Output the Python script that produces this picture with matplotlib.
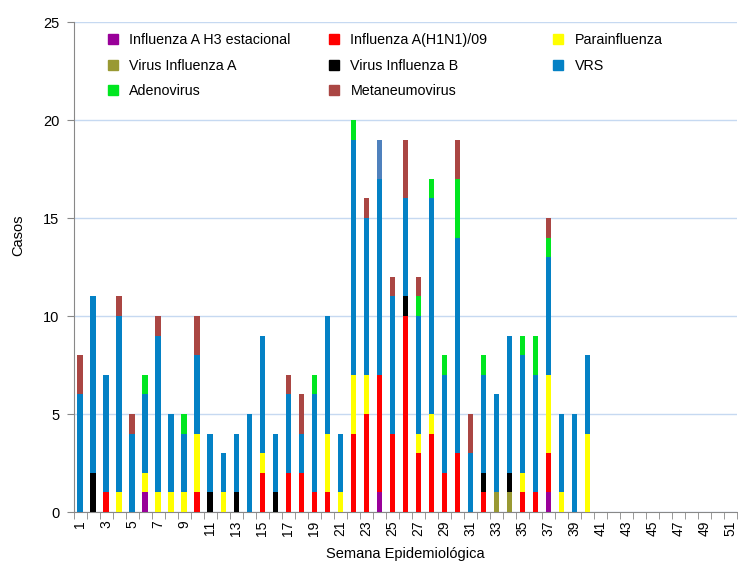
import numpy as np
import matplotlib.pyplot as plt
from matplotlib.patches import Patch

plt.rcParams['font.family'] = ['Liberation Sans', 'DejaVu Sans']

semanas = np.arange(1, 52)

# casos por semana epidemiologica (semanas 1-40, el resto sin casos)
h3_estacional = [0,0,0,0,0,1,0,0,0,0, 0,0,0,0,0,0,0,0,0,0, 0,0,0,1,0,0,0,0,0,0, 0,0,0,0,0,0,1,0,0,0]
h1n1 = [0,0,1,0,0,0,0,0,0,1, 0,0,0,0,2,0,2,2,1,1, 0,4,5,6,4,10,3,4,2,3, 0,1,0,0,1,1,2,0,0,0]
parainfluenza = [0,0,0,1,0,1,1,1,1,3, 0,1,0,0,1,0,0,0,0,3, 1,3,2,0,0,0,1,1,0,0, 0,0,0,0,1,0,4,1,0,4]
virus_a = [0,0,0,0,0,0,0,0,0,0, 0,0,0,0,0,0,0,0,0,0, 0,0,0,0,0,0,0,0,0,0, 0,0,1,1,0,0,0,0,0,0]
virus_b = [0,2,0,0,0,0,0,0,0,0, 1,0,1,0,0,1,0,0,0,0, 0,0,0,0,0,1,0,0,0,0, 0,1,0,1,0,0,0,0,0,0]
vrs = [6,9,6,9,4,4,8,4,3,4, 3,2,3,5,6,3,4,2,5,6, 3,12,8,10,7,5,6,11,5,11, 3,5,5,7,6,6,6,4,5,4]
adenovirus = [0,0,0,0,0,1,0,0,1,0, 0,0,0,0,0,0,0,0,1,0, 0,1,0,0,0,0,1,1,1,3, 0,1,0,0,1,2,1,0,0,0]
metaneumovirus = [2,0,0,1,1,0,1,0,0,2, 0,0,0,0,0,0,1,2,0,0, 0,0,1,0,1,3,1,0,0,2, 2,0,0,0,0,0,1,0,0,0]
otros = [0,0,0,0,0,0,0,0,0,0, 0,0,0,0,0,0,0,0,0,0, 0,0,0,2,0,0,0,0,0,0, 0,0,0,0,0,0,0,0,0,0]

series = [
    ('Influenza A H3 estacional', h3_estacional, '#990099'),
    ('Influenza A(H1N1)/09', h1n1, '#FF0000'),
    ('Parainfluenza', parainfluenza, '#FFFF00'),
    ('Virus Influenza A', virus_a, '#999933'),
    ('Virus Influenza B', virus_b, '#000000'),
    ('VRS', vrs, '#0481C5'),
    ('Adenovirus', adenovirus, '#00E620'),
    ('Metaneumovirus', metaneumovirus, '#AA4643'),
    (None, otros, '#4F81BD'),
]

fig = plt.figure(figsize=(7.38, 5.61), dpi=100)
ax = fig.add_axes([0.0996, 0.0873, 0.899, 0.8734])

base = np.zeros(len(semanas))
for nombre, valores, color in series:
    v = np.zeros(len(semanas))
    v[:len(valores)] = valores
    ax.bar(semanas, v, bottom=base, width=0.4, color=color, zorder=3)
    base += v

ax.set_xlim(0.5, 51.5)
ax.set_ylim(0, 25)
ax.set_yticks(range(0, 26, 5))
ax.yaxis.grid(True, color='#C6D9F1', linewidth=1, zorder=0)

ax.set_xticks(semanas[::2])
ax.set_xticklabels([str(s) for s in semanas[::2]], rotation=90, va='top', ha='center')
ax.set_xticks(np.arange(0.5, 52, 1), minor=True)
ax.tick_params(axis='x', which='major', length=0, pad=6, labelsize=10)
ax.tick_params(axis='x', which='minor', length=5, color='#888888')
ax.tick_params(axis='y', length=5, color='#888888', pad=5, labelsize=10.5)

for lado in ['top', 'right']:
    ax.spines[lado].set_visible(False)
for lado in ['left', 'bottom']:
    ax.spines[lado].set_color('#888888')

ax.set_xlabel('Semana Epidemiológica', fontsize=10.5, labelpad=8)
ax.set_ylabel('Casos', fontsize=10.5)
ax.yaxis.set_label_coords(-0.073, 0.565)

# leyenda en tres columnas
columnas = [[0, 3, 6], [1, 4, 7], [2, 5]]
x_col = [0.138, 0.438, 0.742]
for cols, x0 in zip(columnas, x_col):
    handles = [Patch(color=series[i][2], label=series[i][0]) for i in cols]
    leg = fig.legend(handles=handles, loc='upper left', bbox_to_anchor=(x0, 0.951),
                     frameon=False, fontsize=10.3, handlelength=0.7, handleheight=0.7,
                     handletextpad=0.8, labelspacing=0.8, borderaxespad=0)

fig.savefig('out.png', dpi=100)
